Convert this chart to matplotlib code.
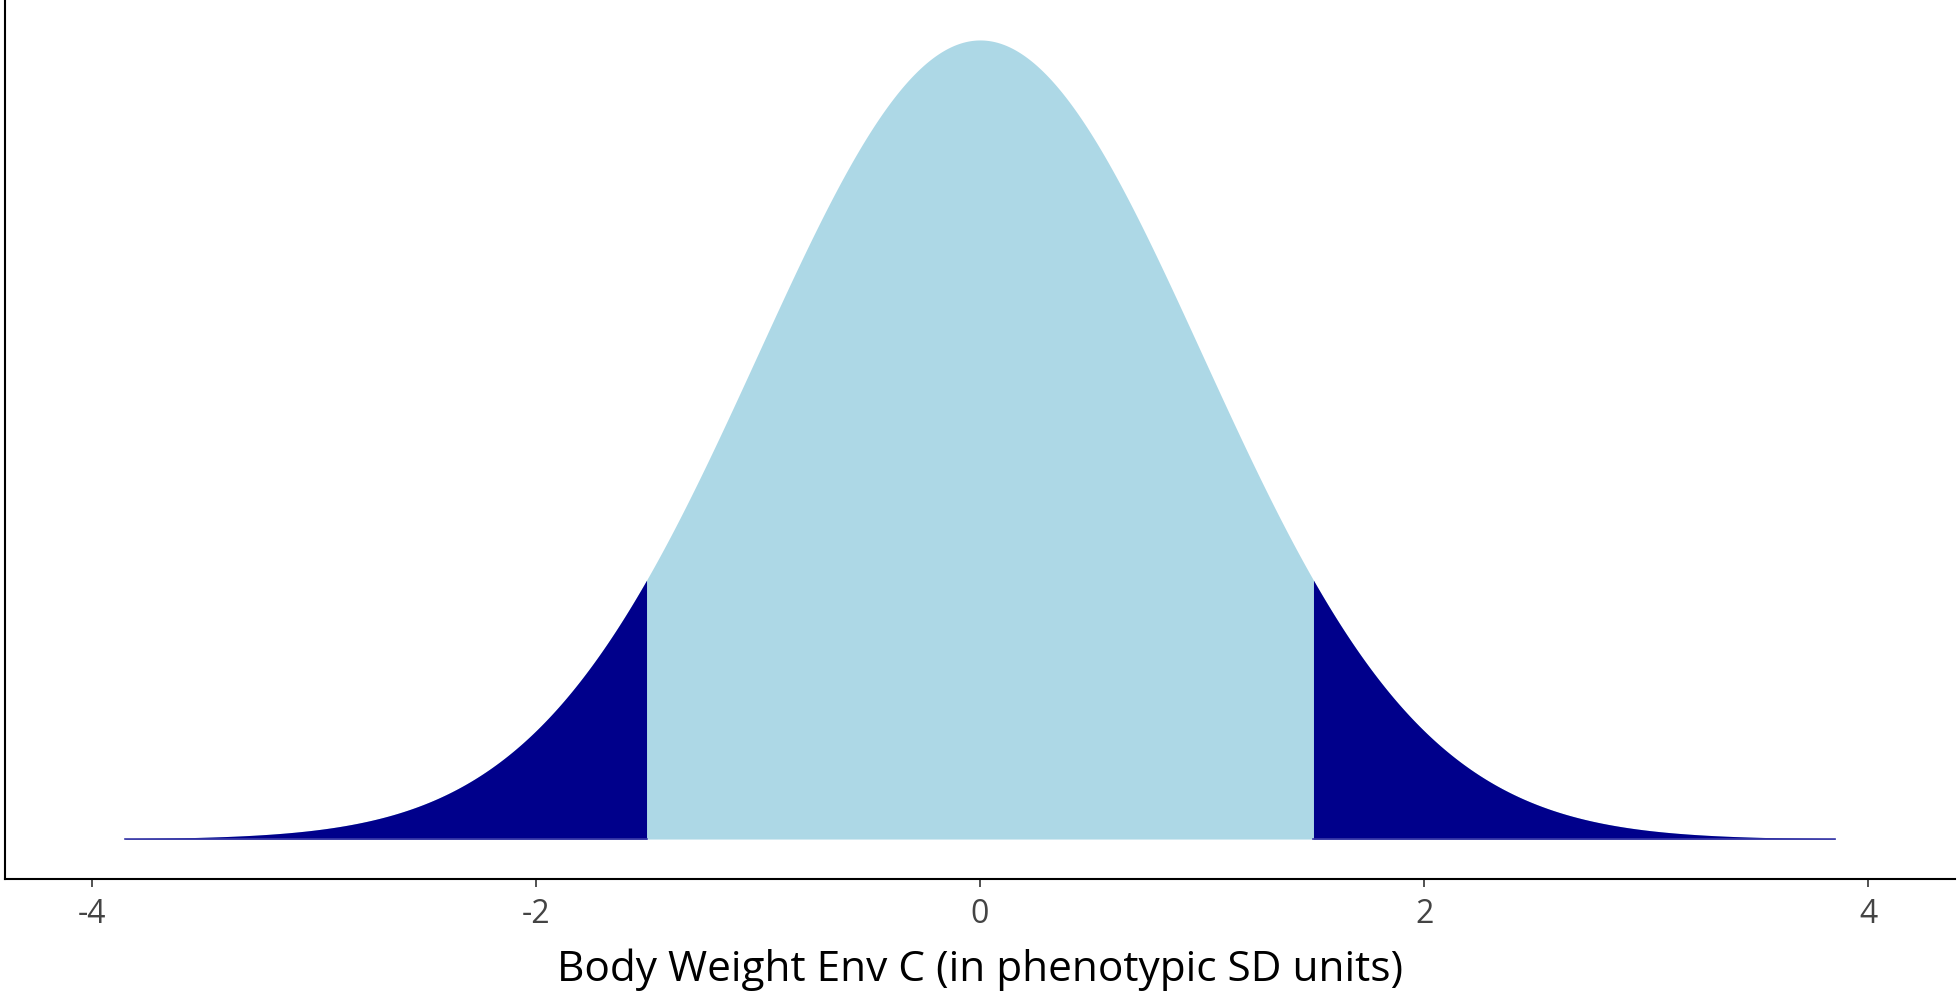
import numpy as np
import matplotlib
matplotlib.use("Agg")
import matplotlib.pyplot as plt

# distribution shown: standard normal in phenotypic SD units
mean = 0.0
sd = 1.0
x_range = [-3.85, 3.85]
cutoffs = [-1.5, 1.5]
x_ticks = [-4, -2, 0, 2, 4]
x_label = "Body Weight Env C (in phenotypic SD units)"

light_col = "#ADD8E6"
tail_col = "#00008B"

x = np.linspace(x_range[0], x_range[1], 2001)
dens = np.exp(-0.5 * ((x - mean) / sd) ** 2) / (sd * np.sqrt(2 * np.pi))

fig = plt.figure(figsize=(19.58, 9.99), dpi=100)
ax = fig.add_axes([5 / 1958, 120 / 999, 1950 / 1958, 879 / 999])

left = x <= cutoffs[0]
right = x >= cutoffs[1]
# middle drawn over the whole curve, tails laid on top (no gap at the cut)
ax.fill_between(x, 0, dens, color=light_col, lw=0)
ax.fill_between(x[left], 0, dens[left], color=tail_col, lw=0)
ax.fill_between(x[right], 0, dens[right], color=tail_col, lw=0)
ax.plot([x_range[0], cutoffs[0]], [0, 0], color="#3a3aa8", lw=1.2)
ax.plot([cutoffs[1], x_range[1]], [0, 0], color="#3a3aa8", lw=1.2)

ax.set_xlim(-4.39, 4.39)
ymax = dens.max()
ax.set_ylim(-0.05 * ymax, 1.05 * ymax)

for s in ["top", "right"]:
    ax.spines[s].set_visible(False)
for s in ["left", "bottom"]:
    ax.spines[s].set_linewidth(1.5)
    ax.spines[s].set_color("black")

ax.set_yticks([])
ax.set_xticks(x_ticks)
ax.set_xticklabels([str(t) for t in x_ticks], fontsize=23, color="#444444",
                   family=["Open Sans", "DejaVu Sans"])
ax.tick_params(axis="x", length=6, width=1.2, color="#333333", pad=8)
ax.set_xlabel(x_label, fontsize=30.5, color="black", family=["Open Sans", "DejaVu Sans"],
              labelpad=12)

fig.savefig("out.png", dpi=100)
